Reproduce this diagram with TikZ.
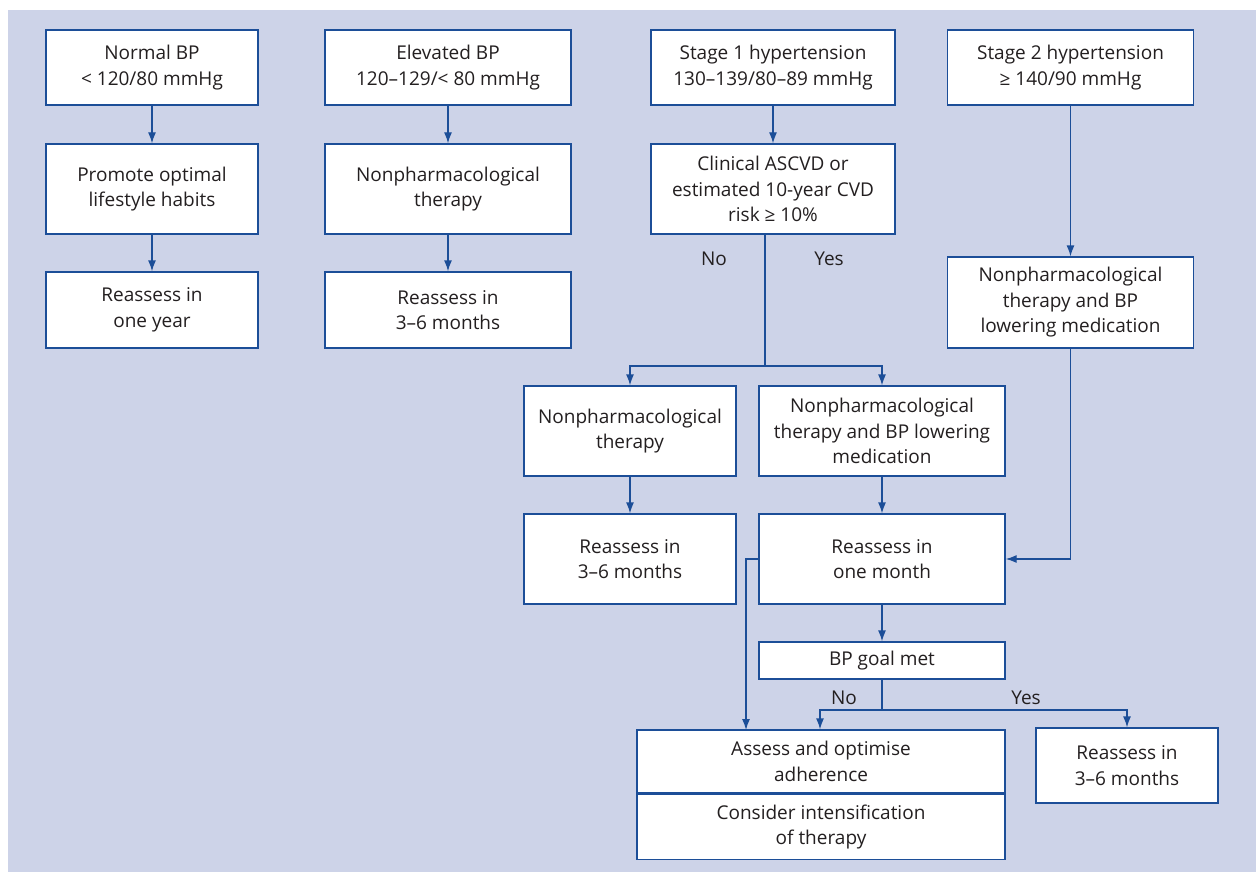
\documentclass[tikz,border=0pt]{standalone}
\usepackage{fontspec}
\setmainfont{Open Sans}
\usetikzlibrary{arrows.meta}
\definecolor{bgblue}{RGB}{205,211,232}
\definecolor{lineblue}{RGB}{28,78,152}
\definecolor{txt}{RGB}{35,31,32}
\tikzset{
every node/.style=
    {text=txt,
    font=\fontsize{19}{25.5}\selectfont,
    align=center,
    inner sep=0pt
    },
box/.style=
    {draw=lineblue,
    fill=white,
    line width=1.3pt
    },
wA/.style={box,minimum width=212},
wB/.style={box,minimum width=246},
wC/.style={box,minimum width=244},
wD/.style={box,minimum width=368},
wE/.style={box,minimum width=182},
arr/.style=
    {draw=lineblue,
    line width=1.3pt,
    -{Latex[length=11pt,width=8pt]}
    },
lin/.style=
    {draw=lineblue,
    line width=1.3pt
    }}

\begin{document}
\begin{tikzpicture}[x=1pt,y=-1pt]
\useasboundingbox (0,0) rectangle (1256,872);
\fill[bgblue] (8,10) rectangle (1256,872);

% first row: categories
\node[wA,minimum height=75] (normal) at (152,67.5) {Normal BP\\< 120/80 mmHg};
\node[wB,minimum height=75] (elev) at (448,67.5) {Elevated BP\\120--129/< 80 mmHg};
\node[wC,minimum height=75] (stage1) at (773,67.5) {Stage 1 hypertension\\130--139/80--89 mmHg};
\node[wB,minimum height=75] (stage2) at (1070.5,67.5) {Stage 2 hypertension\\≥ 140/90 mmHg};

% second row
\node[wA,minimum height=90] (promote) at (152,189) {Promote optimal\\lifestyle habits};
\node[wB,minimum height=90] (nonpharm1) at (448,189) {Nonpharmacological\\therapy};
\node[wC,minimum height=90] (risk) at (773,189) {Clinical ASCVD or\\estimated 10-year CVD\\risk ≥ 10\%};
\node[wB,minimum height=91] (med2) at (1070.5,302.5) {Nonpharmacological\\therapy and BP\\lowering medication};

% third row
\node[wA,minimum height=76] (year) at (152,310) {Reassess in\\one year};
\node[wB,minimum height=76] (later1) at (448,310) {Reassess in\\3--6 months};

% stage 1 branches
\node[wA,minimum height=90] (nonpharm2) at (630,431) {Nonpharmacological\\therapy};
\node[wB,minimum height=90] (med1) at (882,431) {Nonpharmacological\\therapy and BP lowering\\medication};
\node[wA,minimum height=90] (later2) at (630,559) {Reassess in\\3--6 months};
\node[wB,minimum height=90] (month) at (882,559) {Reassess in\\one month};
\node[wB,minimum height=37] (goal) at (882,660.5) {BP goal met};

% outcomes
\node[wD,minimum height=63] (adhere) at (821,761.5) {Assess and optimise\\adherence};
\node[wD,minimum height=65,anchor=north] (intens) at (adhere.south) {Consider intensification\\of therapy};
\node[wE,minimum height=75] (later3) at (1127,765.5) {Reassess in\\3--6 months};

% labels
\node (no1) at (714,259) {No};
\node (yes1) at (829,259) {Yes};
\node (no2) at (844,698) {No};
\node (yes2) at (1026,698) {Yes};

% connectors
\coordinate (split1) at (765,366);
\coordinate (split2) at (882,710);
\coordinate (back) at (746,730);
\draw[arr] (normal) -- (promote);
\draw[arr] (promote) -- (year);
\draw[arr] (elev) -- (nonpharm1);
\draw[arr] (nonpharm1) -- (later1);
\draw[arr] (stage1) -- (risk);
\draw[lin] (risk.south -| split1) -- (split1);
\draw[arr] (split1) -| (nonpharm2.north);
\draw[arr] (split1) -| (med1.north);
\draw[arr] (nonpharm2) -- (later2);
\draw[arr] (med1) -- (month);
\draw[arr] (stage2) -- (med2);
\draw[arr] (med2.south) |- (month.east);
\draw[arr] (month.west) -| (back);
\draw[arr] (month) -- (goal);
\draw[lin] (goal) -- (split2);
\draw[arr] (split2) -| ([xshift=-1]adhere.north);
\draw[arr] (split2) -| (later3.north);

\end{tikzpicture}
\end{document}
